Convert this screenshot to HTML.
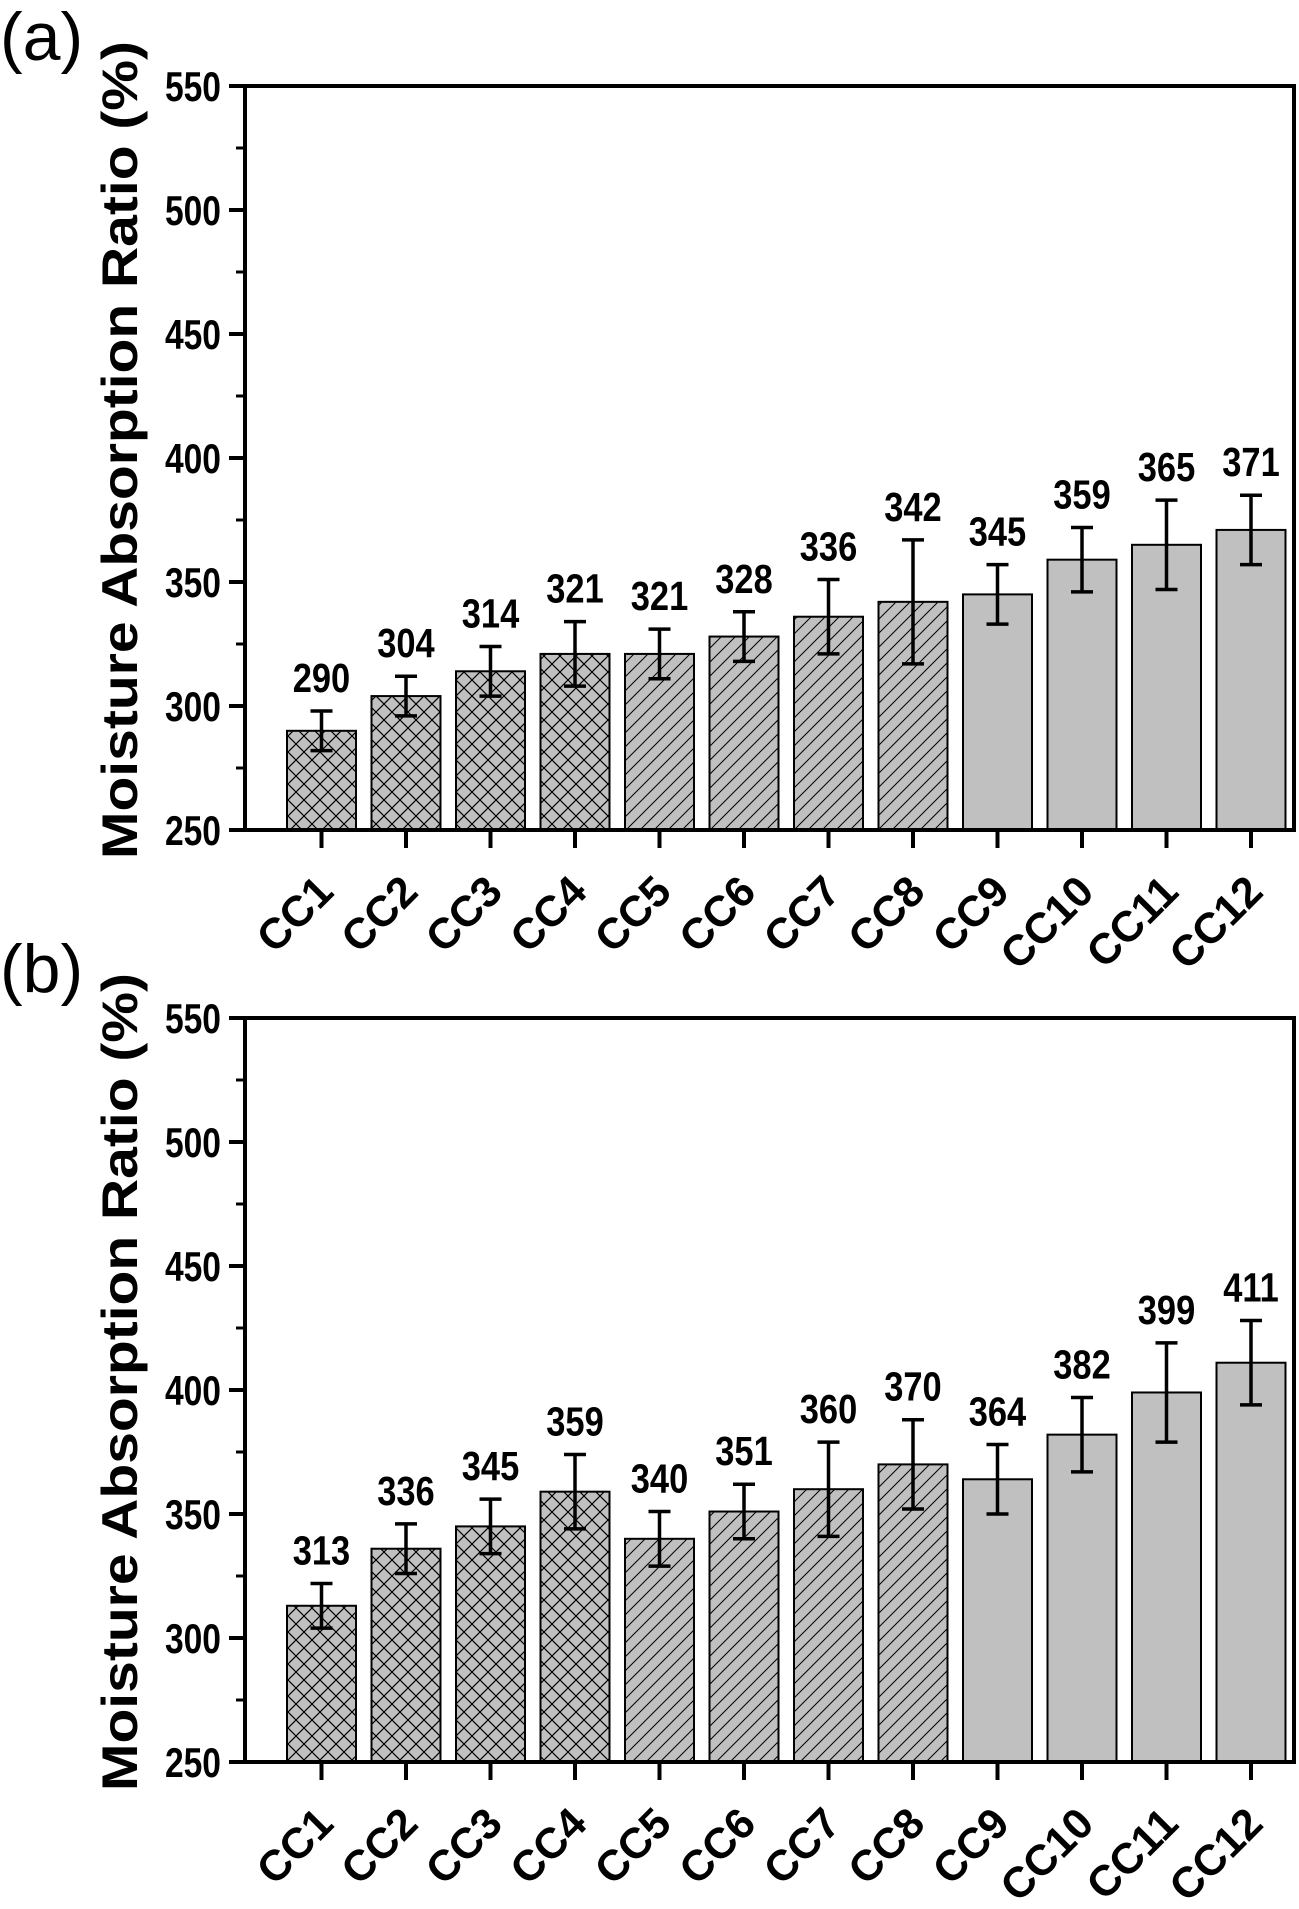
<!DOCTYPE html>
<html><head><meta charset="utf-8"><style>
body{margin:0;background:#fff}
svg{display:block}
text{font-family:"Liberation Sans",Arial,sans-serif}
</style></head><body>
<svg id="chart" width="1299" height="1909" viewBox="0 0 1299 1909" xmlns="http://www.w3.org/2000/svg">
<defs>
<pattern id="cross" patternUnits="userSpaceOnUse" width="16" height="16">
<rect width="16" height="16" fill="#c0c0c0"/>
<path d="M0,0 L16,16 M16,0 L0,16" stroke="#000" stroke-width="1.2"/>
</pattern>
<pattern id="diag" patternUnits="userSpaceOnUse" width="14" height="14">
<rect width="14" height="14" fill="#c0c0c0"/>
<path d="M-2,16 L16,-2 M-2,2 L2,-2 M12,16 L16,12" stroke="#000" stroke-width="1"/>
</pattern>
</defs>
</svg>
<script>
const categories = ["CC1","CC2","CC3","CC4","CC5","CC6","CC7","CC8","CC9","CC10","CC11","CC12"];
const valuesA = [290,304,314,321,321,328,336,342,345,359,365,371];
const errorsA = [8,8,10,13,10,10,15,25,12,13,18,14];
const valuesB = [313,336,345,359,340,351,360,370,364,382,399,411];
const errorsB = [9,10,11,15,11,11,19,18,14,15,20,17];
const yTicks = [250,300,350,400,450,500,550];
const patterns = ["cross","cross","cross","cross","diag","diag","diag","diag","none","none","none","none"];

const svg = document.getElementById('chart');
const NS = 'http://www.w3.org/2000/svg';
function mk(tag, attrs, parent){const e=document.createElementNS(NS,tag);for(const k in attrs)e.setAttribute(k,attrs[k]);(parent||svg).appendChild(e);return e;}

function panel(top, label, values, errors, key){
  const g = mk('g',{});
  
  
  const L=245, R=1294, B=top+744, ymin=250, ymax=550;
  const y = v => B - (v-ymin)/(ymax-ymin)*(B-top);
  const x = i => 321.5 + i*84.5;
  const bw = 69;
  values.forEach((v,i)=>{
    const fill = patterns[i]==='none' ? '#c0c0c0' : 'url(#'+patterns[i]+')';
    const r = mk('rect',{x:x(i)-bw/2,y:y(v),width:bw,height:B-y(v),fill:fill,stroke:'#000','stroke-width':2},g);
    
    
    const e = errors[i];
    const eb = mk('path',{d:`M${x(i)},${y(v+e)}V${y(v-e)}M${x(i)-11},${y(v+e)}H${x(i)+11}M${x(i)-11},${y(v-e)}H${x(i)+11}`,stroke:'#000','stroke-width':3.5,fill:'none'},g);
    
    
    const t = mk('text',{x:x(i),y:y(v+e)-19,'text-anchor':'middle','font-size':41,'font-weight':'bold',transform:`translate(${x(i)},0) scale(0.84,1) translate(${-x(i)},0)`},g);
    t.textContent = v;
    
    
    mk('line',{x1:x(i),x2:x(i),y1:B,y2:B+18,stroke:'#000','stroke-width':4},g);
    const xl = mk('text',{x:0,y:0,'text-anchor':'end','font-size':43,'font-weight':'bold','font-family':'"DejaVu Sans",sans-serif',transform:`translate(${x(i)+14},${B+64}) rotate(-45)`},g);
    xl.textContent = categories[i];
    
    
  });
  const f = mk('rect',{x:L,y:top,width:R-L,height:B-top,fill:'none',stroke:'#000','stroke-width':4},g);
  
  
  yTicks.forEach(v=>{
    mk('line',{x1:L-16,x2:L,y1:y(v),y2:y(v),stroke:'#000','stroke-width':4},g);
    if(v<550) mk('line',{x1:L-9,x2:L,y1:y(v+25),y2:y(v+25),stroke:'#000','stroke-width':3},g);
    const t = mk('text',{x:221,y:y(v)+15,'text-anchor':'end','font-size':42,'font-weight':'bold',transform:`translate(221,0) scale(0.8,1) translate(-221,0)`},g);
    t.textContent = v;
    
    
  });
  const yt = mk('text',{x:0,y:0,'text-anchor':'middle','font-size':50,'font-weight':'bold',textLength:818,lengthAdjust:'spacingAndGlyphs',transform:`translate(137,${top+364}) rotate(-90)`},g);
  yt.textContent = 'Moisture Absorption Ratio (%)';
  
  
  const pl = mk('text',{x:0,y:top-26,'font-size':68},g);
  pl.textContent = label;
  
  
}
panel(86,'(a)',valuesA,errorsA,'a');
panel(1018,'(b)',valuesB,errorsB,'b');
</script>
</body></html>
